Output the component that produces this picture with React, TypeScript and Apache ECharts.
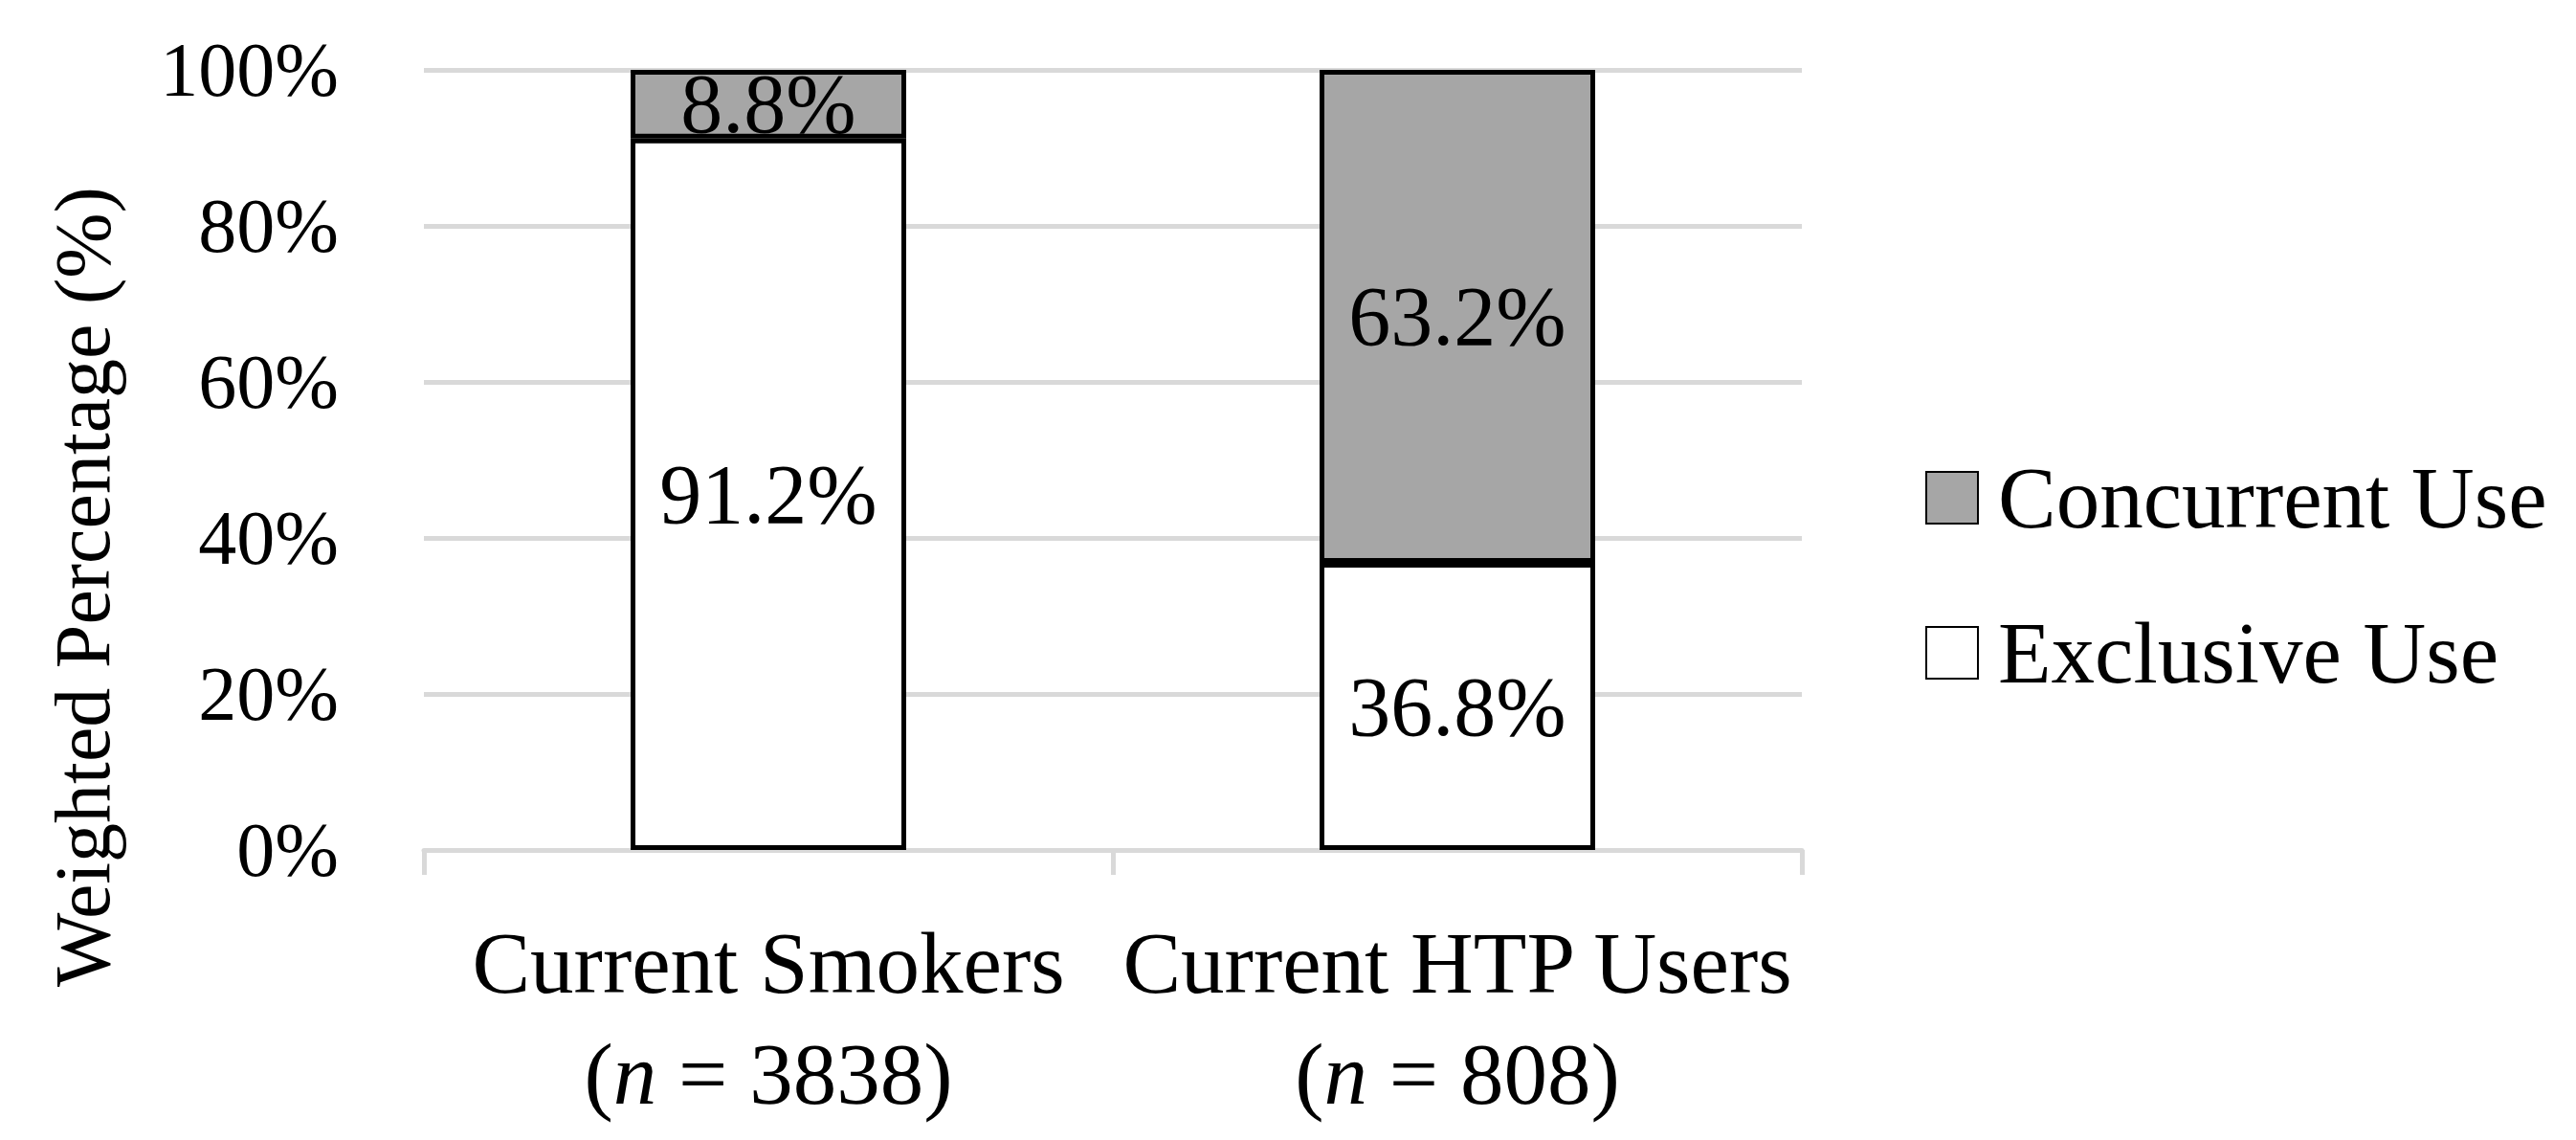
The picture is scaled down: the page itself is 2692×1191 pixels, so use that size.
import React, { useEffect, useRef } from "react";
import * as echarts from "echarts";

const categories = ["Current Smokers", "Current HTP Users"];
const sampleSizes = [3838, 808];
const exclusiveUse = [91.2, 36.8];
const concurrentUse = [8.8, 63.2];
const yTicks = [0, 20, 40, 60, 80, 100];
const seriesNames = ["Concurrent Use", "Exclusive Use"];

const FONT = "'Liberation Serif', 'DejaVu Serif', serif";

export default function App() {
  const ref = useRef<HTMLDivElement>(null);
  useEffect(() => {
    if (!ref.current) return;
    const chart = echarts.init(ref.current, null, { renderer: "svg" });
    const dataLabel = {
      show: true,
      position: "inside",
      formatter: (p: any) => `${p.value.toFixed(1)}%`,
      color: "#000",
      fontFamily: FONT,
      fontSize: 88,
    };
    const richBase = { fontFamily: FONT, fontSize: 91, color: "#000", lineHeight: 116 };
    chart.setOption({
      animation: false,
      backgroundColor: "#fff",
      grid: { left: 443, right: 809, top: 73, bottom: 303, containLabel: false },
      legend: {
        orient: "vertical",
        left: 2012,
        top: 468,
        padding: 0,
        icon: "rect",
        itemWidth: 54,
        itemHeight: 54,
        itemGap: 58,
        data: seriesNames,
        textStyle: {
          fontFamily: FONT,
          fontSize: 91,
          color: "#000",
          lineHeight: 104,
          height: 104,
          padding: [0, 0, 0, 16],
        },
      },
      xAxis: {
        type: "category",
        data: categories,
        axisLine: { show: true, lineStyle: { color: "#d9d9d9", width: 5 } },
        axisTick: { show: true, length: 26, lineStyle: { color: "#d9d9d9", width: 5 } },
        axisLabel: {
          margin: 60,
          interval: 0,
          formatter: (v: string, i: number) =>
            `{a|${v}}\n{a|(}{i|n}{a| = ${sampleSizes[i]})}`,
          rich: {
            a: { ...richBase },
            i: { ...richBase, fontStyle: "italic" },
          },
        },
      },
      yAxis: {
        type: "value",
        min: yTicks[0],
        max: yTicks[yTicks.length - 1],
        interval: 20,
        axisLine: { show: false },
        axisTick: { show: false },
        axisLabel: {
          formatter: "{value}%",
          margin: 89,
          fontFamily: FONT,
          fontSize: 80,
          color: "#000",
        },
        splitLine: { show: true, lineStyle: { color: "#d9d9d9", width: 5 } },
      },
      graphic: [
        {
          type: "text",
          x: 86,
          y: 613,
          rotation: Math.PI / 2,
          style: {
            text: "Weighted Percentage (%)",
            fontFamily: FONT,
            fontSize: 82,
            fill: "#000",
            align: "center",
            verticalAlign: "middle",
          },
        },
      ],
      series: [
        {
          name: "Exclusive Use",
          type: "bar",
          stack: "total",
          barWidth: "40%",
          data: exclusiveUse,
          itemStyle: { color: "#ffffff", borderColor: "#000", borderWidth: 5 },
          label: dataLabel,
        },
        {
          name: "Concurrent Use",
          type: "bar",
          stack: "total",
          barWidth: "40%",
          data: concurrentUse,
          itemStyle: { color: "#a6a6a6", borderColor: "#000", borderWidth: 5 },
          label: dataLabel,
        },
      ],
    });
    return () => chart.dispose();
  }, []);
  return (
    <div
      ref={ref}
      style={{ position: "fixed", left: 0, top: 0, width: 2692, height: 1191, background: "#fff" }}
    />
  );
}
